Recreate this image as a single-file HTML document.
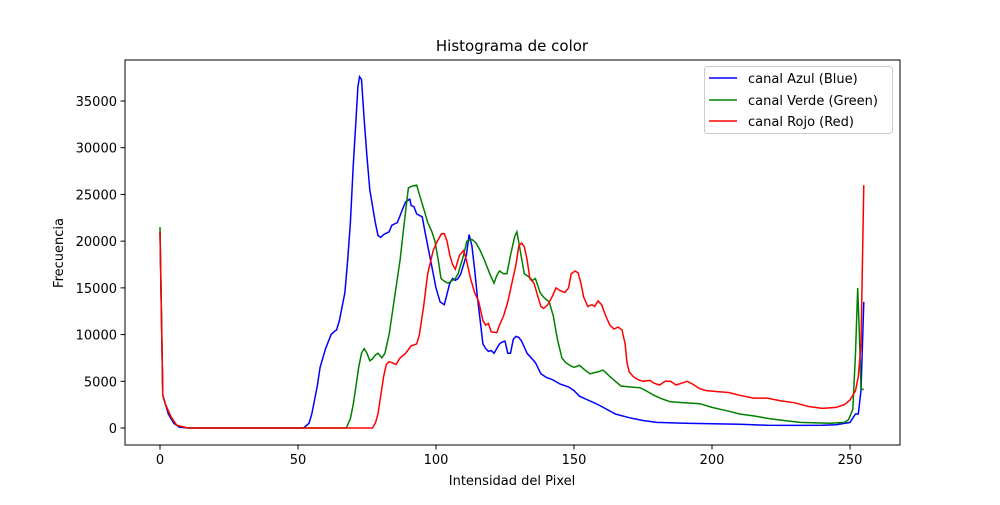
<!DOCTYPE html>
<html><head><meta charset="utf-8"><style>
body{margin:0;background:#fff}
svg text{font-family:"DejaVu Sans","Liberation Sans",sans-serif;font-size:13px;fill:#000}
</style></head><body>
<svg id="s" width="1000" height="500" xmlns="http://www.w3.org/2000/svg">
<rect width="1000" height="500" fill="#fff"/>
<text x="512" y="51" text-anchor="middle" font-size="15" style="font-size:15px">Histograma de color</text>
<g id="ticks"></g>
<g id="lines" fill="none" stroke-width="1.5"></g>
<rect x="125" y="60" width="775" height="385" fill="none" stroke="#000" stroke-width="1"/>
<text x="512" y="485" text-anchor="middle">Intensidad del Pixel</text>
<text transform="translate(63,253) rotate(-90)" text-anchor="middle">Frecuencia</text>
<g>
<rect x="704.5" y="66.5" width="188" height="67" rx="3" fill="#fff" fill-opacity="0.8" stroke="#ccc"/>
<line x1="709" y1="78" x2="737" y2="78" stroke="blue" stroke-width="1.5"/><text x="748" y="83">canal Azul (Blue)</text>
<line x1="709" y1="100" x2="737" y2="100" stroke="green" stroke-width="1.5"/><text x="748" y="105">canal Verde (Green)</text>
<line x1="709" y1="121" x2="737" y2="121" stroke="red" stroke-width="1.5"/><text x="748" y="126">canal Rojo (Red)</text>
</g>
</svg>
<script>
const X=v=>160+v*2.76, Y=v=>428-v*0.009343;
let t='';
for(let v=0;v<=250;v+=50){t+=`<line x1="${X(v)}" y1="445" x2="${X(v)}" y2="449.5" stroke="#000"/><text x="${X(v)}" y="464" text-anchor="middle">${v}</text>`}
for(let v=0;v<=35000;v+=5000){t+=`<line x1="120.5" y1="${Y(v)}" x2="125" y2="${Y(v)}" stroke="#000"/><text x="117" y="${Y(v)+5}" text-anchor="end">${v}</text>`}
document.getElementById('ticks').innerHTML=t;
const B=[0,21000,1,3500,2,2500,3,1500,5,500,7,100,10,0,52,0,54,500,55,1500,57,4500,58,6500,60,8500,62,10000,63,10300,64,10500,65,11500,67,14500,68,18000,69,22000,70,28000,71,33000,71.7,36500,72.3,37600,73,37300,74,33000,75,29000,76,25500,78,22000,79,20600,80,20400,81,20700,83,21000,84,21700,86,22000,88,23500,89,24200,90.5,24500,91,23800,92,23700,93,22900,95,22600,96,21000,98,18000,100,15000,101.5,13500,103,13200,105,15500,106,16000,107,15800,108,16000,109,16500,111,18500,112,20700,113,19500,114,17000,115,14000,116,11500,117,9000,118,8500,119,8200,120,8300,121,8000,122,8500,123,9000,124,9200,125,9300,126,8000,127,8000,128,9500,129,9800,130,9700,131,9300,133,8000,136,7000,138,5800,140,5400,142,5200,145,4700,148,4400,150,4000,152,3400,155,3000,158,2600,160,2300,165,1500,170,1100,175,800,180,600,190,500,200,450,210,400,220,300,230,280,240,300,245,350,250,600,252,1500,253,1500,254,4000,255,13500];
const G=[0,21500,1,3500,2,2500,4,1200,6,300,10,0,67.5,0,69,1000,70,2500,71,4500,72,6500,73,8000,74,8500,75,8000,76,7200,77,7400,78,7800,79,8000,80.4,7500,81.5,8000,83,10000,85,14000,87,18000,88.5,22000,90,25700,91.5,25900,93,26000,94,25000,95.5,23500,97,22000,98.5,21000,99.6,20000,100.8,18000,101.8,16000,103,15700,104.3,15500,105.5,15700,107,16000,108,16500,110,18500,111.2,20000,113,20200,114.5,19800,116,19000,117.5,18000,119.5,16500,121,15500,122,16300,123,16800,124.5,16500,125.7,16500,127,18500,128.5,20500,129.3,21000,130.5,19000,132,16500,133.5,16200,135,15800,136,16000,137.7,14500,139,14000,141,13500,142.5,12000,144,9500,145.6,7500,147,7000,148.5,6700,150,6500,152,6700,154,6200,155.8,5800,157,5900,158.7,6000,160.5,6200,162,5800,163,5500,165,5000,167,4500,170,4400,174,4300,176,4000,179,3500,182,3100,185,2800,190,2700,195.6,2600,200,2200,203,2000,206,1800,210,1500,215,1300,221,1000,226,800,232,600,238,550,243,500,248,600,249.5,900,251,2000,252,8000,252.8,15000,253.5,9000,254,4200,255,4100];
const R=[0,21000,1,3500,2,2500,4,1200,6,300,10,0,77,0,78,500,79,1500,80,3500,81,5500,82,6800,83,7100,84,7000,85.5,6800,87,7500,89,8000,91,8800,93,9000,94,10000,95.5,13000,97,16500,99,19000,100.5,20000,102,20800,103,20800,104,20000,105,18500,106,17500,107,17000,108.5,18500,110,19000,111,18000,112.5,16000,114,14500,115.5,13500,117,11500,118,11000,119,11200,120,10300,122,10200,123,11000,124.5,12000,126,13500,127.5,15500,129,17500,130,19500,131,19800,132,19400,133,18000,134,16000,135.5,15500,137,14000,138,13000,139,12800,140.5,13200,142,14000,143.5,15000,145,14700,146.7,14500,148,15000,149,16500,150.4,16800,151.5,16600,152.5,15500,153.5,14000,155,13000,156.5,13200,157.5,13000,158.7,13600,160,13200,161.5,12000,163,11000,164.5,10600,166,10800,167.4,10500,168.5,9000,169.2,7000,170,6000,171.5,5500,173,5200,175,5000,177.5,5100,179,4800,181,4600,183,5000,185,5000,187,4600,189,4800,191,5000,193,4700,195.6,4200,198,4000,202,3900,206,3800,210,3500,215,3200,220,3200,225,2900,230,2700,235,2300,240,2100,245,2200,248,2500,250,3000,252,4000,253,5500,254,9000,255,26000];
let l='';
for(const [d,c] of [[B,'blue'],[G,'green'],[R,'red']]){let p=[];for(let i=0;i<d.length;i+=2)p.push(X(d[i]).toFixed(1)+','+Y(d[i+1]).toFixed(1));l+=`<polyline stroke="${c}" points="${p.join(' ')}"/>`}
document.getElementById('lines').innerHTML=l;
</script>
</body></html>
